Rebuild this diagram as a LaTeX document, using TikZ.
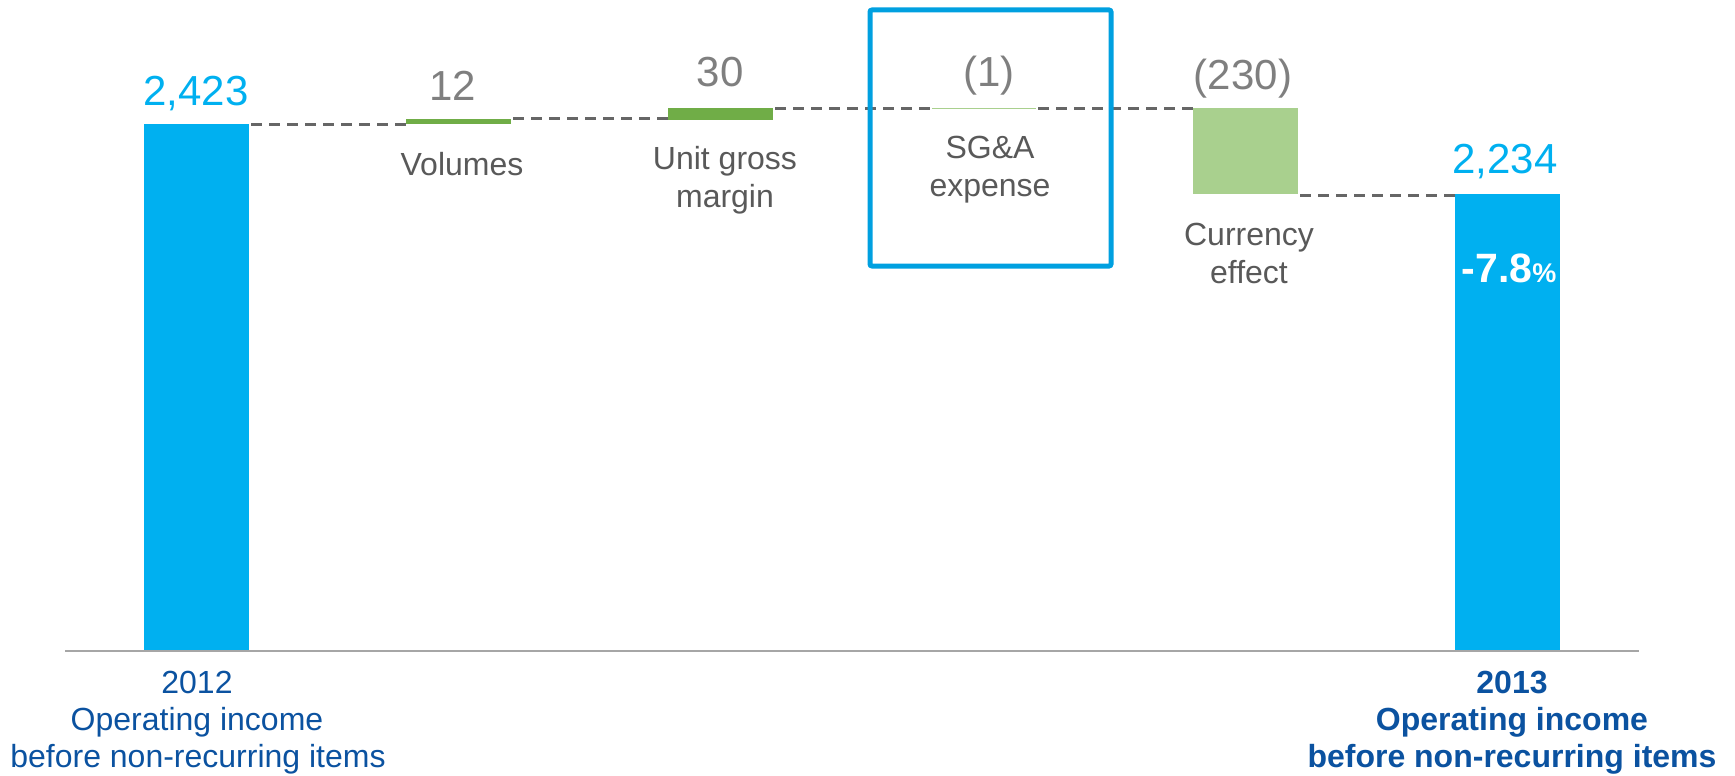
\documentclass[tikz,border=0pt]{standalone}
\usepackage{fontspec}
\setmainfont{Liberation Sans}
\definecolor{barblue}{HTML}{00B0F0}
\definecolor{boxblue}{HTML}{00A0E0}
\definecolor{dkgreen}{HTML}{70AD47}
\definecolor{ltgreen}{HTML}{A9D08E}
\definecolor{valgray}{HTML}{7F7F7F}
\definecolor{labgray}{HTML}{595959}
\definecolor{navy}{HTML}{0B52A0}
\definecolor{dashgray}{HTML}{666666}
\definecolor{axisgray}{HTML}{A6A6A6}
\begin{document}
\begin{tikzpicture}[x=1pt,y=-1pt,
  bar/.style={anchor=north west, inner sep=0pt, outer sep=0pt, minimum width=105pt},
  val/.style={anchor=base, inner sep=0pt, font=\fontsize{42}{48}\selectfont},
  lab/.style={anchor=base, inner sep=0pt, font=\fontsize{32}{37}\selectfont, text=labgray},
  cat/.style={anchor=base, inner sep=0pt, font=\fontsize{32}{37}\selectfont, text=navy},
  dashline/.style={draw=dashgray, line width=3pt, dash pattern=on 11pt off 7pt},
  axisline/.style={draw=axisgray, line width=2.5pt}]
\useasboundingbox (0,0) rectangle (1735,776);
% bars
\node[bar, fill=barblue, minimum height=527pt] (b1) at (144,124) {};
\node[bar, fill=dkgreen, minimum height=5pt] (vol) at (406,119) {};
\node[bar, fill=dkgreen, minimum height=12pt] (ugm) at (668,108) {};
\node[bar, fill=ltgreen, minimum height=1.5pt, minimum width=104pt] (sga) at (932,107.5) {};
\node[bar, fill=ltgreen, minimum height=86pt] (cur) at (1193,108) {};
\node[bar, fill=barblue, minimum height=457pt] (b2) at (1455,194) {};
% axis
\coordinate (axL) at (65,651);
\coordinate (axR) at (1639,651);
\draw[axisline] (axL) -- (axR);
% dashed connectors
\draw[dashline] ([xshift=2pt,yshift=-0.5pt]b1.north east) -- ([yshift=-0.5pt]b1.north east -| vol.west);
\draw[dashline] ([xshift=2pt,yshift=1pt]vol.north east) -- ([yshift=1pt]vol.north east -| ugm.west);
\draw[dashline] ([xshift=2pt]ugm.north east) -- (ugm.north east -| sga.west);
\draw[dashline] ([xshift=2pt]sga.east) -- (sga.east -| cur.west);
\draw[dashline] ([xshift=2pt,yshift=-1pt]cur.south east) -- ([yshift=-1pt]cur.south east -| b2.west);
% highlight box
\node[draw=boxblue, line width=5pt, rounded corners=2pt, anchor=north west, inner sep=0pt, outer sep=0pt, minimum width=241pt, minimum height=256pt] (hl) at (870,10) {};
% values
\node[val, text=barblue] (v1) at (196,105) {2,423};
\node[val, text=valgray] (v2) at (453,100) {12};
\node[val, text=valgray] (v3) at (720,86) {30};
\node[val, text=valgray] (v4) at (989,87) {(1)};
\node[val, text=valgray] (v5) at (1243,89) {(230)};
\node[val, text=barblue] (v6) at (1505,173) {2,234};
\node[anchor=base, inner sep=0pt, text=white] (pct) at (1509,282) {\fontsize{41}{48}\selectfont\bfseries -7.8{\fontsize{27}{30}\selectfont\%}};
% category labels
\node[lab] (l1) at (462,175) {Volumes};
\node[lab] (l2a) at (725,169) {Unit gross};
\node[lab] (l2b) at (725,207) {margin};
\node[lab] (l3a) at (990,158) {SG\&A};
\node[lab] (l3b) at (990,196) {expense};
\node[lab] (l4a) at (1249,245) {Currency};
\node[lab] (l4b) at (1249,283) {effect};
% bottom labels
\node[cat] (c1a) at (197,693) {2012};
\node[cat] (c1b) at (197,730) {Operating income};
\node[cat] (c1c) at (198,767) {before non-recurring items};
\node[cat, font=\fontsize{32}{37}\selectfont\bfseries] (c2a) at (1512,693) {2013};
\node[cat, font=\fontsize{32}{37}\selectfont\bfseries] (c2b) at (1512,730) {Operating income};
\node[cat, font=\fontsize{32}{37}\selectfont\bfseries] (c2c) at (1512,767) {before non-recurring items};
\end{tikzpicture}
\end{document}
